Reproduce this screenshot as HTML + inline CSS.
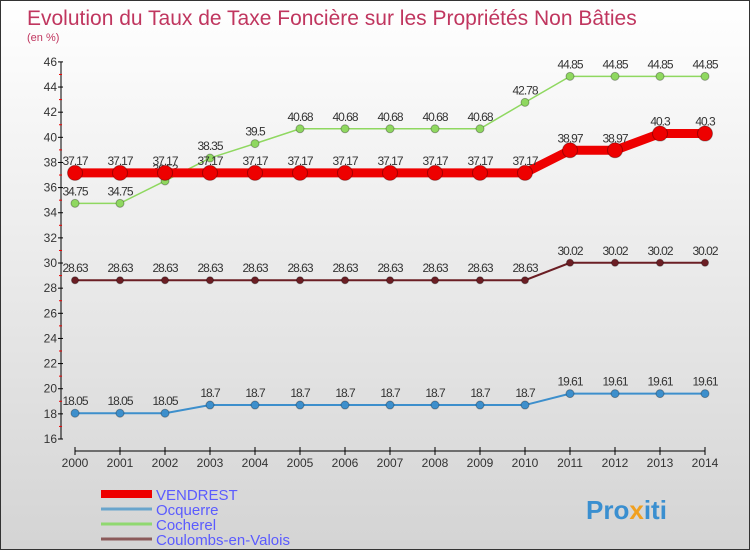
<!DOCTYPE html>
<html><head><meta charset="utf-8"><style>
html,body{margin:0;padding:0}
body{width:750px;height:550px;overflow:hidden;font-family:"Liberation Sans",sans-serif}
#wrap{position:absolute;left:0;top:0;width:748px;height:548px;border:1px solid #333;background:linear-gradient(#ffffff,#d4d4d4)}
</style></head><body>
<div id="wrap">
<svg id="chart" width="748" height="548" xmlns="http://www.w3.org/2000/svg">
<text x="26" y="24" font-size="21" fill="#c0365f">Evolution du Taux de Taxe Foncière sur les Propriétés Non Bâties</text>
<text x="26" y="40" font-size="11" fill="#c0365f">(en %)</text>
<g id="axes"></g><g id="series"></g><g id="legend"></g>
<text x="585" y="518" font-size="26" font-weight="bold" fill="#3a8fd0">Pro<tspan fill="#f0a020">x</tspan>iti</text>
</svg></div>
<script>
const years=[2000,2001,2002,2003,2004,2005,2006,2007,2008,2009,2010,2011,2012,2013,2014];
const yTicks=[16,18,20,22,24,26,28,30,32,34,36,38,40,42,44,46];
const vendrest=[37.17,37.17,37.17,37.17,37.17,37.17,37.17,37.17,37.17,37.17,37.17,38.97,38.97,40.3,40.3];
const ocquerre=[18.05,18.05,18.05,18.7,18.7,18.7,18.7,18.7,18.7,18.7,18.7,19.61,19.61,19.61,19.61];
const cocherel=[34.75,34.75,36.53,38.35,39.5,40.68,40.68,40.68,40.68,40.68,42.78,44.85,44.85,44.85,44.85];
const coulombs=[28.63,28.63,28.63,28.63,28.63,28.63,28.63,28.63,28.63,28.63,28.63,30.02,30.02,30.02,30.02];
const NS="http://www.w3.org/2000/svg";
function xs(i){return 74+i*45;}
function ys(v){return 438-(v-16)*12.57;}
function mk(t,a,p){const e=document.createElementNS(NS,t);for(const k in a)e.setAttribute(k,a[k]);p.appendChild(e);return e;}
const ax=document.getElementById('axes');
const yl=mk('line',{x1:60,y1:ys(46),x2:60,y2:ys(16),stroke:'#000'},ax);


yTicks.forEach(v=>{
 mk('line',{x1:57,y1:ys(v),x2:62,y2:ys(v),stroke:'#000'},ax);
 if(v<46) mk('line',{x1:58,y1:ys(v+1),x2:61,y2:ys(v+1),stroke:'#e00'},ax);
 const t=mk('text',{x:56,y:ys(v)+4,'font-size':12,fill:'#333','text-anchor':'end'},ax);t.textContent=v;
 
 
});
const xl=mk('line',{x1:74,y1:450,x2:xs(14),y2:450,stroke:'#000'},ax);


years.forEach((y,i)=>{
 mk('line',{x1:xs(i),y1:446,x2:xs(i),y2:454,stroke:'#000'},ax);
 const t=mk('text',{x:xs(i),y:466,'font-size':12,fill:'#333','text-anchor':'middle'},ax);t.textContent=y;
 
 
});
const sg=document.getElementById('series');
function draw(vals,color,lw,r,name,fmt){
 const g=mk('g',{},sg);
 
 
 mk('polyline',{points:vals.map((v,i)=>xs(i)+','+ys(v)).join(' '),fill:'none',stroke:color,'stroke-width':lw},g);
 vals.forEach((v,i)=>{
  const c=mk('circle',{cx:xs(i),cy:ys(v),r:r,fill:color,stroke:'rgba(0,0,0,0.3)','stroke-width':1},g);
  
  
  const t=mk('text',{x:xs(i),y:ys(v)-8,'font-size':12,fill:'#333','text-anchor':'middle','letter-spacing':'-1'},g);
  t.textContent=String(v).replace(/^(\d+\.\d)0$/,'$1');
  
  
 });
}
draw(ocquerre,'#3d8fcc',2,4,'ocquerre');
draw(coulombs,'#6b1e24',2,3.5,'coulombs-en-valois');
draw(cocherel,'#8fd860',1.5,4,'cocherel');
draw(vendrest,'#ee0000',9,7.5,'vendrest');
const lg=document.getElementById('legend');
[['VENDREST','#ee0000',8],['Ocquerre','#6aa5cc',3],['Cocherel','#90d870',3],['Coulombs-en-Valois','#8b5a5a',3]].forEach((d,i)=>{
 const y=493+i*15;
 const g=mk('g',{},lg);
 
 
 mk('line',{x1:100,y1:y,x2:151,y2:y,stroke:d[1],'stroke-width':d[2]},g);
 const t=mk('text',{x:155,y:y+6,'font-size':15,fill:'#5b5bff'},g);t.textContent=d[0];
});
</script>
</body></html>
